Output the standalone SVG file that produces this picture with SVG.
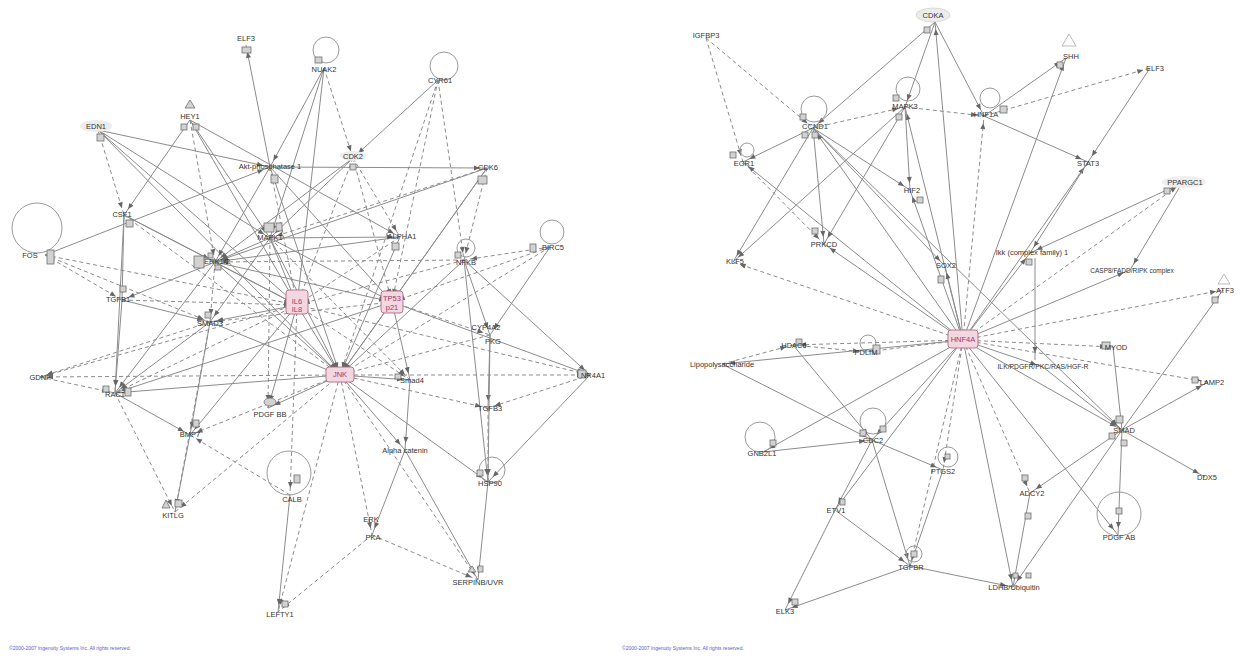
<svg xmlns="http://www.w3.org/2000/svg" width="1241" height="656" viewBox="0 0 1241 656">
<style>
.e{stroke:#8c8c8c;stroke-width:1;fill:none}
.d{stroke-dasharray:4 3}
.s{fill:#d2d2d2;stroke:#6e6e6e;stroke-width:0.8}
.ps{fill:#f2d6e0;stroke:#b06a88;stroke-width:0.9}
.l{fill:none;stroke:#9a9a9a;stroke-width:1}
.t{font-family:"Liberation Sans",Arial,sans-serif;font-size:7.5px;fill:#333;text-anchor:middle}
.pt{font-family:"Liberation Sans",Arial,sans-serif;font-size:7.5px;fill:#a5386a;text-anchor:middle}
.f{font-family:"Liberation Sans",Arial,sans-serif;font-size:5px;fill:#5a5ad0}
</style>
<defs>
<marker id="a" markerUnits="userSpaceOnUse" markerWidth="20" markerHeight="20" refX="13" refY="0" orient="auto" overflow="visible">
<path d="M0,-2.5 L6,0 L0,2.5 z" fill="#666"/>
</marker>
</defs>
<rect width="1241" height="656" fill="#ffffff"/>
<g id="connectors" marker-end="url(#a)">
<line class="e" x1="270" y1="167" x2="246" y2="45"/>
<line class="e" x1="324" y1="68" x2="270" y2="167"/>
<line class="e" x1="324" y1="68" x2="270" y2="238"/>
<line class="e d" x1="324" y1="68" x2="353" y2="158"/>
<line class="e" x1="324" y1="68" x2="297" y2="305"/>
<line class="e" x1="438" y1="80" x2="353" y2="158"/>
<line class="e d" x1="438" y1="80" x2="392" y2="302"/>
<line class="e d" x1="438" y1="80" x2="464" y2="260"/>
<line class="e d" x1="438" y1="80" x2="340" y2="375"/>
<line class="e" x1="190" y1="120" x2="124" y2="215"/>
<line class="e" x1="190" y1="120" x2="270" y2="238"/>
<line class="e d" x1="190" y1="120" x2="215" y2="262"/>
<line class="e" x1="190" y1="120" x2="297" y2="305"/>
<line class="e" x1="190" y1="120" x2="400" y2="237"/>
<line class="e d" x1="98" y1="130" x2="124" y2="215"/>
<line class="e" x1="98" y1="130" x2="270" y2="238"/>
<line class="e" x1="98" y1="130" x2="297" y2="305"/>
<line class="e" x1="98" y1="130" x2="340" y2="375"/>
<line class="e" x1="98" y1="130" x2="270" y2="167"/>
<line class="e" x1="45" y1="255" x2="270" y2="167"/>
<line class="e" x1="270" y1="167" x2="340" y2="375"/>
<line class="e d" x1="270" y1="167" x2="297" y2="305"/>
<line class="e" x1="270" y1="167" x2="392" y2="302"/>
<line class="e" x1="270" y1="167" x2="487" y2="168"/>
<line class="e" x1="270" y1="167" x2="215" y2="262"/>
<line class="e" x1="353" y1="158" x2="215" y2="262"/>
<line class="e d" x1="353" y1="158" x2="297" y2="305"/>
<line class="e d" x1="353" y1="158" x2="392" y2="302"/>
<line class="e" x1="353" y1="158" x2="270" y2="238"/>
<line class="e d" x1="353" y1="158" x2="400" y2="237"/>
<line class="e" x1="487" y1="168" x2="392" y2="302"/>
<line class="e d" x1="487" y1="168" x2="464" y2="260"/>
<line class="e" x1="487" y1="168" x2="215" y2="262"/>
<line class="e" x1="487" y1="168" x2="340" y2="375"/>
<line class="e d" x1="487" y1="168" x2="270" y2="238"/>
<line class="e d" x1="45" y1="255" x2="122" y2="300"/>
<line class="e d" x1="45" y1="255" x2="210" y2="322"/>
<line class="e d" x1="45" y1="255" x2="297" y2="305"/>
<line class="e" x1="124" y1="215" x2="122" y2="300"/>
<line class="e" x1="124" y1="215" x2="215" y2="262"/>
<line class="e" x1="124" y1="215" x2="297" y2="305"/>
<line class="e" x1="124" y1="215" x2="115" y2="393"/>
<line class="e d" x1="124" y1="215" x2="340" y2="375"/>
<line class="e" x1="270" y1="238" x2="297" y2="305"/>
<line class="e" x1="270" y1="238" x2="392" y2="302"/>
<line class="e" x1="270" y1="238" x2="340" y2="375"/>
<line class="e" x1="270" y1="238" x2="215" y2="262"/>
<line class="e" x1="270" y1="238" x2="210" y2="322"/>
<line class="e d" x1="270" y1="238" x2="268" y2="408"/>
<line class="e d" x1="270" y1="238" x2="410" y2="380"/>
<line class="e" x1="270" y1="238" x2="400" y2="237"/>
<line class="e" x1="400" y1="237" x2="215" y2="262"/>
<line class="e d" x1="400" y1="237" x2="297" y2="305"/>
<line class="e" x1="400" y1="237" x2="340" y2="375"/>
<line class="e" x1="464" y1="260" x2="340" y2="375"/>
<line class="e d" x1="464" y1="260" x2="215" y2="262"/>
<line class="e d" x1="550" y1="247" x2="464" y2="260"/>
<line class="e" x1="464" y1="260" x2="590" y2="375"/>
<line class="e" x1="464" y1="260" x2="488" y2="482"/>
<line class="e" x1="464" y1="260" x2="490" y2="335"/>
<line class="e d" x1="464" y1="260" x2="297" y2="305"/>
<line class="e d" x1="550" y1="247" x2="340" y2="375"/>
<line class="e d" x1="550" y1="247" x2="392" y2="302"/>
<line class="e" x1="550" y1="247" x2="490" y2="335"/>
<line class="e" x1="215" y1="262" x2="297" y2="305"/>
<line class="e" x1="215" y1="262" x2="392" y2="302"/>
<line class="e" x1="215" y1="262" x2="340" y2="375"/>
<line class="e" x1="215" y1="262" x2="122" y2="300"/>
<line class="e" x1="215" y1="262" x2="115" y2="393"/>
<line class="e d" x1="215" y1="262" x2="210" y2="322"/>
<line class="e" x1="297" y1="305" x2="340" y2="375"/>
<line class="e" x1="297" y1="305" x2="210" y2="322"/>
<line class="e d" x1="297" y1="305" x2="115" y2="393"/>
<line class="e" x1="297" y1="305" x2="190" y2="435"/>
<line class="e" x1="297" y1="305" x2="268" y2="408"/>
<line class="e d" x1="297" y1="305" x2="290" y2="495"/>
<line class="e d" x1="297" y1="305" x2="410" y2="380"/>
<line class="e d" x1="297" y1="305" x2="40" y2="377"/>
<line class="e d" x1="297" y1="305" x2="590" y2="375"/>
<line class="e" x1="392" y1="302" x2="340" y2="375"/>
<line class="e" x1="392" y1="302" x2="410" y2="380"/>
<line class="e d" x1="392" y1="302" x2="490" y2="335"/>
<line class="e" x1="392" y1="302" x2="590" y2="375"/>
<line class="e d" x1="392" y1="302" x2="210" y2="322"/>
<line class="e" x1="392" y1="302" x2="115" y2="393"/>
<line class="e" x1="122" y1="300" x2="210" y2="322"/>
<line class="e" x1="122" y1="300" x2="115" y2="393"/>
<line class="e d" x1="122" y1="300" x2="297" y2="305"/>
<line class="e d" x1="210" y1="322" x2="40" y2="377"/>
<line class="e" x1="210" y1="322" x2="115" y2="393"/>
<line class="e" x1="210" y1="322" x2="190" y2="435"/>
<line class="e d" x1="210" y1="322" x2="175" y2="512"/>
<line class="e" x1="210" y1="322" x2="340" y2="375"/>
<line class="e d" x1="490" y1="335" x2="340" y2="375"/>
<line class="e" x1="490" y1="335" x2="488" y2="408"/>
<line class="e" x1="490" y1="335" x2="488" y2="482"/>
<line class="e" x1="340" y1="375" x2="410" y2="380"/>
<line class="e d" x1="340" y1="375" x2="590" y2="375"/>
<line class="e d" x1="340" y1="375" x2="40" y2="377"/>
<line class="e" x1="340" y1="375" x2="115" y2="393"/>
<line class="e" x1="340" y1="375" x2="268" y2="408"/>
<line class="e d" x1="340" y1="375" x2="190" y2="435"/>
<line class="e d" x1="340" y1="375" x2="488" y2="408"/>
<line class="e" x1="340" y1="375" x2="405" y2="450"/>
<line class="e" x1="340" y1="375" x2="488" y2="482"/>
<line class="e d" x1="340" y1="375" x2="372" y2="535"/>
<line class="e d" x1="340" y1="375" x2="478" y2="580"/>
<line class="e d" x1="340" y1="375" x2="278" y2="612"/>
<line class="e d" x1="340" y1="375" x2="175" y2="512"/>
<line class="e" x1="410" y1="380" x2="405" y2="450"/>
<line class="e" x1="590" y1="375" x2="488" y2="482"/>
<line class="e d" x1="590" y1="375" x2="488" y2="408"/>
<line class="e d" x1="40" y1="377" x2="115" y2="393"/>
<line class="e" x1="115" y1="393" x2="190" y2="435"/>
<line class="e d" x1="115" y1="393" x2="175" y2="512"/>
<line class="e" x1="190" y1="435" x2="175" y2="512"/>
<line class="e d" x1="488" y1="408" x2="488" y2="482"/>
<line class="e" x1="405" y1="450" x2="478" y2="580"/>
<line class="e" x1="405" y1="450" x2="372" y2="535"/>
<line class="e" x1="488" y1="482" x2="478" y2="580"/>
<line class="e d" x1="372" y1="535" x2="478" y2="580"/>
<line class="e d" x1="372" y1="535" x2="278" y2="612"/>
<line class="e" x1="290" y1="495" x2="278" y2="612"/>
<line class="e d" x1="290" y1="495" x2="190" y2="435"/>
<line class="e" x1="963" y1="340" x2="935" y2="22"/>
<line class="e" x1="963" y1="340" x2="813" y2="128"/>
<line class="e" x1="963" y1="340" x2="905" y2="107"/>
<line class="e d" x1="963" y1="340" x2="984" y2="116"/>
<line class="e" x1="963" y1="340" x2="743" y2="162"/>
<line class="e" x1="963" y1="340" x2="910" y2="190"/>
<line class="e" x1="963" y1="340" x2="824" y2="244"/>
<line class="e d" x1="963" y1="340" x2="733" y2="262"/>
<line class="e" x1="963" y1="340" x2="945" y2="266"/>
<line class="e" x1="963" y1="340" x2="1030" y2="253"/>
<line class="e d" x1="963" y1="340" x2="1182" y2="183"/>
<line class="e" x1="963" y1="340" x2="1130" y2="270"/>
<line class="e d" x1="963" y1="340" x2="1223" y2="290"/>
<line class="e" x1="963" y1="340" x2="1043" y2="367"/>
<line class="e d" x1="963" y1="340" x2="1113" y2="347"/>
<line class="e d" x1="963" y1="340" x2="1208" y2="382"/>
<line class="e d" x1="963" y1="340" x2="793" y2="345"/>
<line class="e d" x1="963" y1="340" x2="866" y2="352"/>
<line class="e" x1="963" y1="340" x2="722" y2="364"/>
<line class="e" x1="963" y1="340" x2="763" y2="452"/>
<line class="e" x1="963" y1="340" x2="872" y2="440"/>
<line class="e d" x1="963" y1="340" x2="943" y2="470"/>
<line class="e" x1="963" y1="340" x2="1122" y2="430"/>
<line class="e d" x1="963" y1="340" x2="1030" y2="493"/>
<line class="e" x1="963" y1="340" x2="1118" y2="535"/>
<line class="e d" x1="963" y1="340" x2="910" y2="566"/>
<line class="e" x1="963" y1="340" x2="1013" y2="587"/>
<line class="e" x1="963" y1="340" x2="1066" y2="58"/>
<line class="e" x1="963" y1="340" x2="1088" y2="162"/>
<line class="e" x1="963" y1="340" x2="835" y2="510"/>
<line class="e d" x1="706" y1="38" x2="813" y2="128"/>
<line class="e d" x1="706" y1="38" x2="743" y2="162"/>
<line class="e" x1="935" y1="22" x2="813" y2="128"/>
<line class="e" x1="935" y1="22" x2="905" y2="107"/>
<line class="e" x1="935" y1="22" x2="984" y2="116"/>
<line class="e d" x1="813" y1="128" x2="905" y2="107"/>
<line class="e" x1="813" y1="128" x2="743" y2="162"/>
<line class="e" x1="813" y1="128" x2="824" y2="244"/>
<line class="e" x1="813" y1="128" x2="733" y2="262"/>
<line class="e" x1="813" y1="128" x2="910" y2="190"/>
<line class="e" x1="813" y1="128" x2="1122" y2="430"/>
<line class="e" x1="813" y1="128" x2="945" y2="266"/>
<line class="e" x1="905" y1="107" x2="824" y2="244"/>
<line class="e" x1="905" y1="107" x2="910" y2="190"/>
<line class="e d" x1="905" y1="107" x2="984" y2="116"/>
<line class="e" x1="905" y1="107" x2="733" y2="262"/>
<line class="e" x1="984" y1="116" x2="1088" y2="162"/>
<line class="e d" x1="984" y1="116" x2="1150" y2="68"/>
<line class="e" x1="984" y1="116" x2="1066" y2="58"/>
<line class="e" x1="1150" y1="68" x2="1088" y2="162"/>
<line class="e d" x1="743" y1="162" x2="824" y2="244"/>
<line class="e" x1="1088" y1="162" x2="1030" y2="253"/>
<line class="e" x1="1182" y1="183" x2="1030" y2="253"/>
<line class="e" x1="1182" y1="183" x2="1130" y2="270"/>
<line class="e" x1="1035" y1="258" x2="1035" y2="360"/>
<line class="e" x1="1113" y1="347" x2="1122" y2="430"/>
<line class="e" x1="1122" y1="430" x2="1223" y2="290"/>
<line class="e" x1="1122" y1="430" x2="1208" y2="382"/>
<line class="e" x1="1122" y1="430" x2="1205" y2="477"/>
<line class="e" x1="1122" y1="430" x2="1118" y2="535"/>
<line class="e" x1="1122" y1="430" x2="1030" y2="493"/>
<line class="e" x1="1122" y1="430" x2="1013" y2="587"/>
<line class="e" x1="1043" y1="367" x2="1122" y2="430"/>
<line class="e" x1="722" y1="364" x2="872" y2="440"/>
<line class="e" x1="793" y1="345" x2="872" y2="440"/>
<line class="e" x1="763" y1="452" x2="872" y2="440"/>
<line class="e" x1="872" y1="440" x2="943" y2="470"/>
<line class="e" x1="872" y1="440" x2="835" y2="510"/>
<line class="e" x1="872" y1="440" x2="910" y2="566"/>
<line class="e" x1="835" y1="510" x2="785" y2="610"/>
<line class="e" x1="835" y1="510" x2="910" y2="566"/>
<line class="e" x1="910" y1="566" x2="785" y2="610"/>
<line class="e" x1="910" y1="566" x2="1013" y2="587"/>
<line class="e" x1="943" y1="470" x2="910" y2="566"/>
<line class="e" x1="1030" y1="493" x2="1013" y2="587"/>
<line class="e d" x1="722" y1="364" x2="793" y2="345"/>
<line class="e d" x1="793" y1="345" x2="866" y2="352"/>
</g>
<g id="L1"><rect class="s" x="242" y="47" width="9" height="6"/><text class="t" x="246" y="41">ELF3</text></g>
<g id="L2"><circle class="l" cx="326" cy="50" r="13"/><rect class="s" x="315" y="57" width="7" height="6"/><text class="t" x="324" y="72">NUAK2</text></g>
<g id="L3"><circle class="l" cx="444" cy="66" r="14"/><text class="t" x="440" y="83">CYR61</text></g>
<g id="L4"><polygon class="s" points="190,100 195,108 185,108"/><rect class="s" x="181" y="124" width="6" height="6"/><rect class="s" x="193" y="124" width="6" height="6"/><text class="t" x="190" y="119">HEY1</text></g>
<g id="L5"><ellipse cx="96" cy="126" rx="16" ry="6" fill="#ececec"/><rect class="s" x="97" y="134" width="7" height="7"/><text class="t" x="96" y="129">EDN1</text></g>
<g id="L6"><rect class="s" x="271" y="175" width="7" height="8"/><text class="t" x="270" y="169">Akt-phosphatase 1</text></g>
<g id="L7"><ellipse cx="353" cy="156" rx="13" ry="5" fill="#ececec"/><rect class="s" x="350" y="164" width="6" height="6"/><text class="t" x="353" y="159">CDK2</text></g>
<g id="L8"><rect class="s" x="478" y="176" width="9" height="8"/><text class="t" x="488" y="170">CDK6</text></g>
<g id="L9"><circle class="l" cx="37" cy="228" r="25"/><rect class="s" x="47" y="250" width="7" height="14"/><text class="t" x="30" y="258">FOS</text></g>
<g id="L10"><rect class="s" x="126" y="220" width="7" height="7"/><text class="t" x="122" y="217">CSF1</text></g>
<g id="L11"><rect class="s" x="264" y="223" width="10" height="9"/><rect class="s" x="276" y="223" width="6" height="8"/><text class="t" x="270" y="240">MAPK1</text></g>
<g id="L12"><rect class="s" x="392" y="243" width="7" height="7"/><text class="t" x="402" y="239">ALPHA1</text></g>
<g id="L13"><circle class="l" cx="466" cy="248" r="9"/><rect class="s" x="455" y="252" width="6" height="6"/><text class="t" x="466" y="265">NFKB</text></g>
<g id="L14"><circle class="l" cx="552" cy="232" r="12"/><rect class="s" x="530" y="244" width="6" height="8"/><text class="t" x="553" y="250">BIRC5</text></g>
<g id="L15"><rect class="s" x="208" y="253" width="5" height="5"/><rect class="s" x="194" y="256" width="10" height="12"/><rect class="s" x="215" y="265" width="6" height="5"/><text class="t" x="217" y="264">ERK1/2</text></g>
<g id="L16"><rect class="ps" x="286" y="290" width="22" height="24" rx="3"/><text class="pt" x="297" y="304">IL6</text><text class="pt" x="297" y="312">IL8</text></g>
<g id="L17"><rect class="ps" x="381" y="291" width="22" height="22" rx="3"/><text class="pt" x="392" y="301">TP53</text><text class="pt" x="392" y="310">p21</text></g>
<g id="L18"><rect class="s" x="120" y="286" width="6" height="6"/><text class="t" x="118" y="302">TGFB1</text></g>
<g id="L19"><rect class="s" x="205" y="312" width="6" height="6"/><text class="t" x="210" y="326">SMAD3</text></g>
<g id="L20"><text class="t" x="486" y="330">CYP4A2</text><text class="t" x="493" y="344">PKG</text></g>
<g id="L21"><rect class="ps" x="326" y="367" width="28" height="15" rx="3"/><text class="pt" x="340" y="377">JNK</text></g>
<g id="L22"><rect class="s" x="395" y="374" width="6" height="5"/><text class="t" x="412" y="383">Smad4</text></g>
<g id="L23"><rect class="s" x="578" y="370" width="8" height="8"/><text class="t" x="593" y="378">NR4A1</text></g>
<g id="L24"><text class="t" x="40" y="380">GDNF</text></g>
<g id="L25"><rect class="s" x="103" y="386" width="6" height="6"/><rect class="s" x="125" y="388" width="6" height="8"/><text class="t" x="115" y="397">RAC1</text></g>
<g id="L26"><ellipse class="s" cx="270" cy="402" rx="6" ry="4"/><text class="t" x="270" y="417">PDGF BB</text></g>
<g id="L27"><rect class="s" x="193" y="420" width="6" height="7"/><text class="t" x="190" y="437">BMP7</text></g>
<g id="L28"><text class="t" x="490" y="411">TGFB3</text></g>
<g id="L29"><text class="t" x="405" y="453">Alpha catenin</text></g>
<g id="L30"><circle class="l" cx="289" cy="473" r="22"/><rect class="s" x="294" y="475" width="6" height="8"/><text class="t" x="292" y="502">CALB</text></g>
<g id="L31"><circle class="l" cx="492" cy="470" r="13"/><rect class="s" x="477" y="470" width="6" height="6"/><text class="t" x="490" y="486">HSP90</text></g>
<g id="L32"><polygon class="s" points="162,508 166,500 170,508"/><rect class="s" x="175" y="500" width="7" height="7"/><text class="t" x="173" y="518">KITLG</text></g>
<g id="L33"><text class="t" x="371" y="522">ERK</text><text class="t" x="373" y="540">PKA</text></g>
<g id="L34"><polygon class="s" points="468,572 472,566 476,572"/><rect class="s" x="478" y="566" width="5" height="6"/><text class="t" x="478" y="585">SERPINB/UVR</text></g>
<g id="L35"><rect class="s" x="282" y="601" width="6" height="6"/><text class="t" x="280" y="617">LEFTY1</text></g>
<g id="R1"><ellipse cx="933" cy="15" rx="17" ry="7" fill="#ececec" stroke="#c8c8c8" stroke-width="0.6"/><rect class="s" x="924" y="27" width="6" height="6"/><text class="t" x="933" y="18">CDKA</text></g>
<g id="R2"><text class="t" x="706" y="38">IGFBP3</text></g>
<g id="R3"><polygon fill="none" stroke="#aaa" stroke-width="0.8" points="1069,34 1076,46 1062,46"/><rect class="s" x="1057" y="62" width="6" height="6"/><text class="t" x="1071" y="59">SHH</text></g>
<g id="R4"><text class="t" x="1155" y="71">ELF3</text></g>
<g id="R5"><circle class="l" cx="814" cy="109" r="13"/><rect class="s" x="800" y="114" width="6" height="6"/><rect class="s" x="802" y="132" width="6" height="6"/><rect class="s" x="812" y="132" width="6" height="6"/><text class="t" x="815" y="129">CCND1</text></g>
<g id="R6"><circle class="l" cx="908" cy="89" r="12"/><rect class="s" x="893" y="95" width="6" height="6"/><rect class="s" x="896" y="114" width="6" height="6"/><text class="t" x="905" y="109">MAPK3</text></g>
<g id="R7"><circle class="l" cx="990" cy="98" r="10"/><rect class="s" x="1000" y="106" width="7" height="7"/><text class="t" x="986" y="117">HNF1A</text></g>
<g id="R8"><circle class="l" cx="747" cy="150" r="7"/><rect class="s" x="730" y="152" width="6" height="6"/><text class="t" x="744" y="166">EGR1</text></g>
<g id="R9"><text class="t" x="1088" y="166">STAT3</text></g>
<g id="R10"><rect class="s" x="917" y="197" width="6" height="6"/><text class="t" x="912" y="193">HIF2</text></g>
<g id="R11"><rect class="s" x="812" y="228" width="6" height="6"/><text class="t" x="824" y="247">PRKCD</text></g>
<g id="R12"><text class="t" x="735" y="264">KLF5</text></g>
<g id="R13"><rect class="s" x="938" y="276" width="6" height="7"/><text class="t" x="946" y="268">SOX2</text></g>
<g id="R14"><rect class="s" x="1026" y="259" width="6" height="6"/><text class="t" x="1032" y="255">Ikk (complex family) 1</text></g>
<g id="R15"><ellipse cx="1184" cy="182" rx="22" ry="6" fill="#eeeeee"/><rect class="s" x="1164" y="188" width="6" height="6"/><text class="t" x="1185" y="185">PPARGC1</text></g>
<g id="R16"><text class="t" x="1132" y="273" style="font-size:6.5px">CASP8/FADD/RIPK complex</text></g>
<g id="R17"><polygon fill="none" stroke="#aaa" stroke-width="0.8" points="1224,274 1230,284 1218,284"/><rect class="s" x="1212" y="297" width="6" height="6"/><text class="t" x="1225" y="293">ATF3</text></g>
<g id="R18"><rect class="ps" x="948" y="330" width="30" height="18" rx="3"/><text class="pt" x="963" y="342">HNF4A</text></g>
<g id="R19"><text class="t" x="1043" y="369" style="font-size:6.8px">ILK/PDGFR/PKC/RAS/HGF-R</text></g>
<g id="R20"><rect class="s" x="1102" y="342" width="8" height="7"/><text class="t" x="1116" y="350">MYOD</text></g>
<g id="R21"><rect class="s" x="1192" y="377" width="6" height="6"/><text class="t" x="1212" y="385">LAMP2</text></g>
<g id="R22"><rect class="s" x="796" y="339" width="6" height="6"/><text class="t" x="794" y="348">HDAC6</text></g>
<g id="R22b"><circle class="l" cx="868" cy="343" r="8"/><rect class="s" x="873" y="345" width="7" height="9"/><text class="t" x="866" y="355">PDLIM</text></g>
<g id="R23"><text class="t" x="722" y="367">Lipopolysaccharide</text></g>
<g id="R24"><circle class="l" cx="760" cy="437" r="15"/><rect class="s" x="770" y="440" width="6" height="6"/><text class="t" x="762" y="456">GNB2L1</text></g>
<g id="R25"><circle class="l" cx="873" cy="421" r="13"/><rect class="s" x="860" y="430" width="6" height="6"/><rect class="s" x="880" y="426" width="6" height="6"/><text class="t" x="873" y="443">CDC2</text></g>
<g id="R26"><circle class="l" cx="948" cy="457" r="10"/><rect class="s" x="945" y="454" width="5" height="5"/><text class="t" x="943" y="474">PTGS2</text></g>
<g id="R27"><rect class="s" x="1116" y="416" width="7" height="7"/><rect class="s" x="1109" y="433" width="6" height="6"/><rect class="s" x="1121" y="440" width="6" height="6"/><text class="t" x="1124" y="433">SMAD</text></g>
<g id="R28"><text class="t" x="1207" y="480">DDX5</text></g>
<g id="R29"><rect class="s" x="1022" y="475" width="6" height="6"/><rect class="s" x="1025" y="513" width="6" height="6"/><text class="t" x="1032" y="496">ADCY2</text></g>
<g id="R30"><rect class="s" x="840" y="499" width="5" height="6"/><text class="t" x="836" y="513">ETV1</text></g>
<g id="R31"><circle class="l" cx="1119" cy="514" r="22"/><rect class="s" x="1116" y="508" width="6" height="6"/><text class="t" x="1119" y="540">PDGF AB</text></g>
<g id="R32"><circle class="l" cx="914" cy="554" r="8"/><rect class="s" x="911" y="551" width="6" height="6"/><text class="t" x="911" y="570">TGFBR</text></g>
<g id="R33"><rect class="s" x="1013" y="573" width="5" height="5"/><rect class="s" x="1026" y="573" width="5" height="5"/><text class="t" x="1014" y="590">LDHB/Ubiquitin</text></g>
<g id="R34"><rect class="s" x="792" y="599" width="6" height="6"/><text class="t" x="785" y="614">ELK3</text></g>
<text class="f" x="9" y="650">©2000-2007 Ingenuity Systems Inc. All rights reserved.</text>
<text class="f" x="622" y="650">©2000-2007 Ingenuity Systems Inc. All rights reserved.</text>
</svg>
